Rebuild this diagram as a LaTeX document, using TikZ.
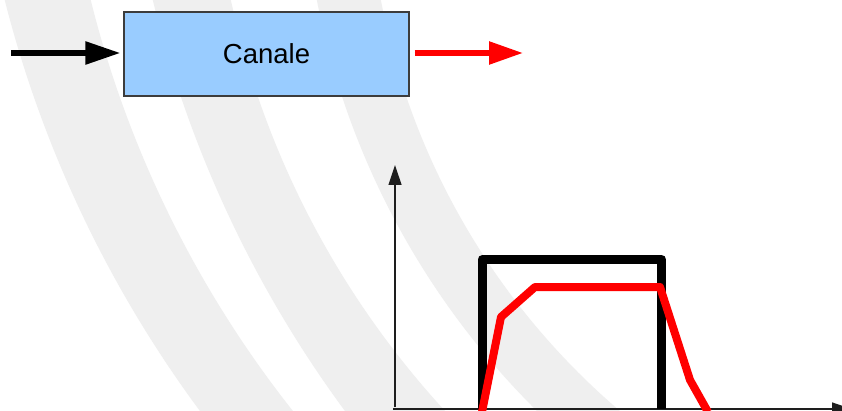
\documentclass[tikz,border=0pt]{standalone}
\usepackage{fontspec}
\setmainfont{Liberation Sans}
\usetikzlibrary{arrows.meta}
\definecolor{wm}{RGB}{239,239,239}
\definecolor{boxfill}{RGB}{153,204,255}
\definecolor{boxline}{RGB}{60,60,60}
\definecolor{axisgray}{RGB}{30,30,30}
\definecolor{sigred}{RGB}{255,0,0}
\tikzset{
  band/.style={fill=wm, draw=none, even odd rule},
  blockbox/.style={draw=boxline, line width=1.2pt, fill=boxfill, minimum width=285pt, minimum height=84pt, inner sep=0pt, font=\fontsize{27.5}{33}\selectfont},
  bigarrow/.style={line width=5.5pt, -{Triangle[length=35pt,width=22pt]}},
  axisline/.style={draw=axisgray, line width=1.2pt, -{Triangle[length=20pt,width=13pt]}},
  idealcurve/.style={line width=9pt, line join=round, draw=black},
  realcurve/.style={line width=8pt, line join=round, draw=sigred}
}
\begin{document}
\begin{tikzpicture}[x=1pt,y=-1pt]
\fill[white] (0,0) rectangle (842,411);
\useasboundingbox (0,0) rectangle (842,411);
\begin{scope}
\clip (0,0) rectangle (842,411);
% watermark bands (arcs)
\fill[band] (1153,-293) circle (1184.8pt) (1147.1,-263.9) circle (1088.6pt);
\fill[band] (1276.5,-274.5) circle (1156.5pt) (1101.2,-191.9) circle (891.1pt);
\fill[band] (1094.7,-151.9) circle (792.4pt) (1084.5,-134.1) circle (716.2pt);

% block
\node[blockbox] (canale) at (266.5,54) {\raisebox{-2.5pt}{Canale}};
\coordinate (in) at (11,53);
\coordinate (out) at (523,53);
\draw[bigarrow, draw=black, fill=black, shorten >=3pt] (in) -- (in -| canale.west);
\draw[bigarrow, draw=sigred, fill=sigred, -{Triangle[length=34pt,width=22pt,fill=sigred]}, shorten <=5pt] (canale.east |- out) -- (out);

% axes
\coordinate (o) at (395,409);
\coordinate (ytip) at (395,165);
\coordinate (xtip) at (852,409);
\draw[axisline] (395,407) -- (ytip);
\draw[axisline] (393,409) -- (xtip);

% ideal response
\draw[idealcurve] (482,409) -- (482,259.5) -- (661.5,259.5) -- (661.5,409);
% real response
\draw[realcurve] (482,412) -- (501,317) -- (535,287) -- (660,287) -- (690,380) -- (708,412);
\end{scope}
\end{tikzpicture}
\end{document}
